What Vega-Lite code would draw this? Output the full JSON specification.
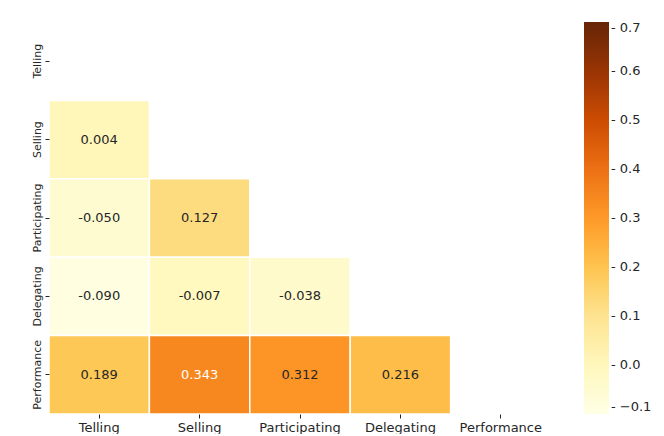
{
  "$schema": "https://vega.github.io/schema/vega-lite/v6.json",
  "width": 502,
  "height": 392,
  "padding": {"left": 30, "top": 22, "right": 5, "bottom": 0},
  "background": "white",
  "config": {
    "view": {"stroke": null},
    "font": "DejaVu Sans",
    "axis": {"labelFont": "DejaVu Sans", "labelFontSize": 13, "labelColor": "#262626", "tickColor": "#262626", "domain": false, "grid": false, "tickSize": 4, "labelPadding": 3, "title": null},
    "legend": {"labelFont": "DejaVu Sans", "labelFontSize": 13, "labelColor": "#262626"}
  },
  "data": {
    "values": [
      {"row": "Selling", "col": "Telling", "r": 0.004},
      {"row": "Participating", "col": "Telling", "r": -0.050},
      {"row": "Participating", "col": "Selling", "r": 0.127},
      {"row": "Delegating", "col": "Telling", "r": -0.090},
      {"row": "Delegating", "col": "Selling", "r": -0.007},
      {"row": "Delegating", "col": "Participating", "r": -0.038},
      {"row": "Performance", "col": "Telling", "r": 0.189},
      {"row": "Performance", "col": "Selling", "r": 0.343},
      {"row": "Performance", "col": "Participating", "r": 0.312},
      {"row": "Performance", "col": "Delegating", "r": 0.216}
    ]
  },
  "encoding": {
    "x": {"field": "col", "type": "nominal", "scale": {"domain": ["Telling", "Selling", "Participating", "Delegating", "Performance"], "paddingInner": 0, "paddingOuter": 0}, "axis": {"labelAngle": 0, "orient": "bottom"}},
    "y": {"field": "row", "type": "nominal", "scale": {"domain": ["Telling", "Selling", "Participating", "Delegating", "Performance"], "paddingInner": 0, "paddingOuter": 0}, "axis": {"labelAngle": 270, "labelAlign": "center", "labelBaseline": "bottom", "labelFontSize": 11}}
  },
  "layer": [
    {
      "mark": {"type": "rect", "stroke": "white", "strokeWidth": 1.5},
      "encoding": {
        "color": {
          "field": "r", "type": "quantitative",
          "scale": {
            "domain": [-0.1, 0, 0.1, 0.2, 0.3, 0.4, 0.5, 0.6, 0.7],
            "range": ["#ffffe5", "#fff7bc", "#fee391", "#fec44f", "#fe9929", "#ec7014", "#cc4c02", "#993404", "#662506"]
          },
          "legend": {
            "title": null,
            "orient": "right",
            "offset": 33,
            "gradientLength": 392,
            "gradientThickness": 25,
            "gradientStrokeWidth": 0,
            "values": [-0.1, 0, 0.1, 0.2, 0.3, 0.4, 0.5, 0.6, 0.7],
            "labelExpr": "'- ' + replace(format(datum.value, '.1f'), '-', '\u2212')",
            "labelOffset": 2,
            "labelOverlap": false
          }
        }
      }
    },
    {
      "transform": [{"calculate": "replace(format(datum.r, '.3f'), '\u2212', '-')", "as": "label"}],
      "mark": {"type": "text", "fontSize": 13, "font": "DejaVu Sans"},
      "encoding": {
        "text": {"field": "label", "type": "nominal"},
        "color": {"condition": {"test": "datum.r > 0.33", "value": "white"}, "value": "#262626"}
      }
    }
  ]
}
